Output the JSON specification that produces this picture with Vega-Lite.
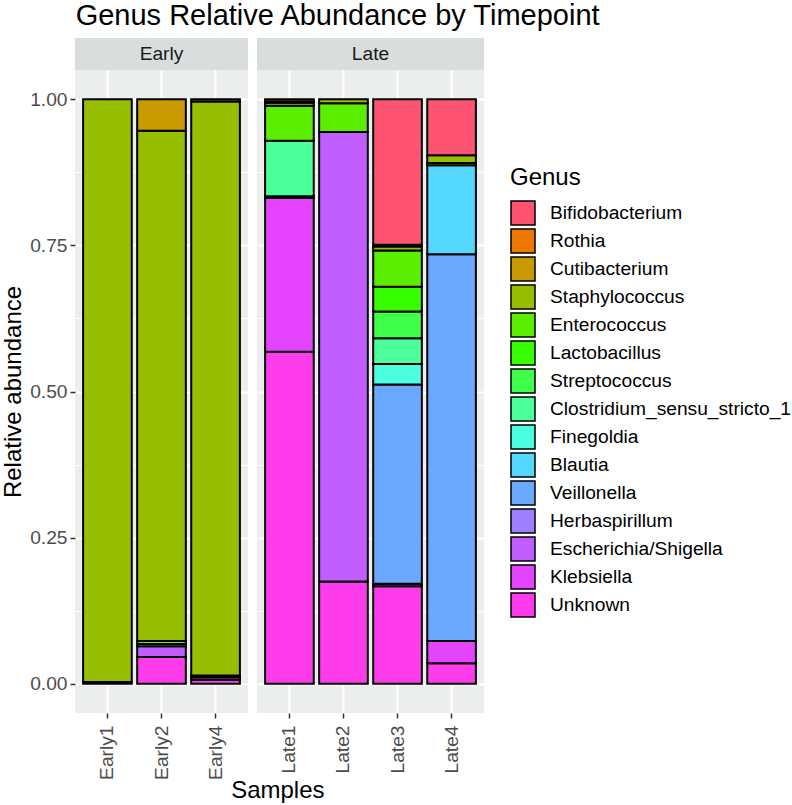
{
  "$schema": "https://vega.github.io/schema/vega-lite/v6.json",
  "padding": {"left": 1, "top": 2, "right": 0, "bottom": 0},
  "background": "white",
  "title": {"text": "Genus Relative Abundance by Timepoint", "anchor": "start", "fontSize": 29, "fontWeight": "normal", "font": "Liberation Sans", "color": "black", "offset": 7, "dx": 74},
  "datasets": {
    "abund": [
      {"Sample": "Early1", "Timepoint": "Early", "Genus": "Unknown", "Abundance": 0.003, "rank": 1},
      {"Sample": "Early1", "Timepoint": "Early", "Genus": "Staphylococcus", "Abundance": 0.997, "rank": 12},
      {"Sample": "Early2", "Timepoint": "Early", "Genus": "Unknown", "Abundance": 0.046, "rank": 1},
      {"Sample": "Early2", "Timepoint": "Early", "Genus": "Escherichia/Shigella", "Abundance": 0.018, "rank": 3},
      {"Sample": "Early2", "Timepoint": "Early", "Genus": "Veillonella", "Abundance": 0.004, "rank": 5},
      {"Sample": "Early2", "Timepoint": "Early", "Genus": "Enterococcus", "Abundance": 0.005, "rank": 11},
      {"Sample": "Early2", "Timepoint": "Early", "Genus": "Staphylococcus", "Abundance": 0.873, "rank": 12},
      {"Sample": "Early2", "Timepoint": "Early", "Genus": "Cutibacterium", "Abundance": 0.054, "rank": 13},
      {"Sample": "Early4", "Timepoint": "Early", "Genus": "Unknown", "Abundance": 0.007, "rank": 1},
      {"Sample": "Early4", "Timepoint": "Early", "Genus": "Klebsiella", "Abundance": 0.004, "rank": 2},
      {"Sample": "Early4", "Timepoint": "Early", "Genus": "Escherichia/Shigella", "Abundance": 0.003, "rank": 3},
      {"Sample": "Early4", "Timepoint": "Early", "Genus": "Staphylococcus", "Abundance": 0.982, "rank": 12},
      {"Sample": "Early4", "Timepoint": "Early", "Genus": "Cutibacterium", "Abundance": 0.004, "rank": 13},
      {"Sample": "Late1", "Timepoint": "Late", "Genus": "Unknown", "Abundance": 0.568, "rank": 1},
      {"Sample": "Late1", "Timepoint": "Late", "Genus": "Klebsiella", "Abundance": 0.263, "rank": 2},
      {"Sample": "Late1", "Timepoint": "Late", "Genus": "Escherichia/Shigella", "Abundance": 0.003, "rank": 3},
      {"Sample": "Late1", "Timepoint": "Late", "Genus": "Clostridium_sensu_stricto_1", "Abundance": 0.095, "rank": 8},
      {"Sample": "Late1", "Timepoint": "Late", "Genus": "Enterococcus", "Abundance": 0.060, "rank": 11},
      {"Sample": "Late1", "Timepoint": "Late", "Genus": "Staphylococcus", "Abundance": 0.005, "rank": 12},
      {"Sample": "Late1", "Timepoint": "Late", "Genus": "Cutibacterium", "Abundance": 0.002, "rank": 13},
      {"Sample": "Late1", "Timepoint": "Late", "Genus": "Rothia", "Abundance": 0.004, "rank": 14},
      {"Sample": "Late2", "Timepoint": "Late", "Genus": "Unknown", "Abundance": 0.175, "rank": 1},
      {"Sample": "Late2", "Timepoint": "Late", "Genus": "Escherichia/Shigella", "Abundance": 0.769, "rank": 3},
      {"Sample": "Late2", "Timepoint": "Late", "Genus": "Enterococcus", "Abundance": 0.049, "rank": 11},
      {"Sample": "Late2", "Timepoint": "Late", "Genus": "Staphylococcus", "Abundance": 0.007, "rank": 12},
      {"Sample": "Late3", "Timepoint": "Late", "Genus": "Unknown", "Abundance": 0.167, "rank": 1},
      {"Sample": "Late3", "Timepoint": "Late", "Genus": "Klebsiella", "Abundance": 0.004, "rank": 2},
      {"Sample": "Late3", "Timepoint": "Late", "Genus": "Veillonella", "Abundance": 0.341, "rank": 5},
      {"Sample": "Late3", "Timepoint": "Late", "Genus": "Finegoldia", "Abundance": 0.035, "rank": 7},
      {"Sample": "Late3", "Timepoint": "Late", "Genus": "Clostridium_sensu_stricto_1", "Abundance": 0.044, "rank": 8},
      {"Sample": "Late3", "Timepoint": "Late", "Genus": "Streptococcus", "Abundance": 0.046, "rank": 9},
      {"Sample": "Late3", "Timepoint": "Late", "Genus": "Lactobacillus", "Abundance": 0.042, "rank": 10},
      {"Sample": "Late3", "Timepoint": "Late", "Genus": "Enterococcus", "Abundance": 0.062, "rank": 11},
      {"Sample": "Late3", "Timepoint": "Late", "Genus": "Staphylococcus", "Abundance": 0.007, "rank": 12},
      {"Sample": "Late3", "Timepoint": "Late", "Genus": "Cutibacterium", "Abundance": 0.003, "rank": 13},
      {"Sample": "Late3", "Timepoint": "Late", "Genus": "Bifidobacterium", "Abundance": 0.249, "rank": 15},
      {"Sample": "Late4", "Timepoint": "Late", "Genus": "Unknown", "Abundance": 0.035, "rank": 1},
      {"Sample": "Late4", "Timepoint": "Late", "Genus": "Klebsiella", "Abundance": 0.038, "rank": 2},
      {"Sample": "Late4", "Timepoint": "Late", "Genus": "Veillonella", "Abundance": 0.662, "rank": 5},
      {"Sample": "Late4", "Timepoint": "Late", "Genus": "Blautia", "Abundance": 0.152, "rank": 6},
      {"Sample": "Late4", "Timepoint": "Late", "Genus": "Enterococcus", "Abundance": 0.004, "rank": 11},
      {"Sample": "Late4", "Timepoint": "Late", "Genus": "Staphylococcus", "Abundance": 0.013, "rank": 12},
      {"Sample": "Late4", "Timepoint": "Late", "Genus": "Bifidobacterium", "Abundance": 0.096, "rank": 15}
    ]
  },
  "vconcat": [
    {
      "title": {"text": "Samples", "orient": "bottom", "anchor": "middle", "fontSize": 24, "fontWeight": "normal", "font": "Liberation Sans", "color": "black", "offset": 0, "dx": 35},
      "spacing": 9,
      "hconcat": [
        {
          "spacing": 0,
          "vconcat": [
            {
              "width": 173, "height": 32,
              "data": {"values": [{"Timepoint": "Early"}]},
              "mark": {"type": "text", "fontSize": 19.2, "color": "#1A1A1A", "font": "Liberation Sans"},
              "encoding": {"text": {"field": "Timepoint", "type": "nominal"}},
              "view": {"fill": "#D9DEDD", "stroke": null}
            },
            {
              "width": 173, "height": 643,
              "data": {"name": "abund"},
              "transform": [{"filter": "datum.Timepoint === 'Early'"}],
              "mark": {"type": "bar", "stroke": "black", "strokeWidth": 2},
              "view": {"fill": "#EBEEED", "stroke": null},
              "encoding": {
                "x": {"field": "Sample", "type": "nominal", "scale": {"paddingInner": 0.1, "paddingOuter": 0.15},
                  "axis": {"title": null, "labelAngle": -90, "bandPosition": 0.5, "labelPadding": 7, "grid": true, "gridWidth": 2}},
                "y": {"field": "Abundance", "type": "quantitative", "stack": "zero",
                  "scale": {"domain": [-0.05, 1.05], "nice": false, "zero": false},
                  "axis": {"title": "Relative abundance", "values": [0, 0.125, 0.25, 0.375, 0.5, 0.625, 0.75, 0.875, 1],
                    "labelExpr": "datum.value % 0.25 === 0 ? format(datum.value, '.2f') : ''",
                    "tickOpacity": {"condition": {"test": "datum.value % 0.25 === 0", "value": 1}, "value": 0},
                    "gridWidth": {"condition": {"test": "datum.value % 0.25 === 0", "value": 2}, "value": 1},
                    "labelPadding": 3, "titlePadding": 4}},
                "color": {"field": "Genus", "type": "nominal",
                  "scale": {
                    "domain": ["Bifidobacterium", "Rothia", "Cutibacterium", "Staphylococcus", "Enterococcus", "Lactobacillus", "Streptococcus", "Clostridium_sensu_stricto_1", "Finegoldia", "Blautia", "Veillonella", "Herbaspirillum", "Escherichia/Shigella", "Klebsiella", "Unknown"],
                    "range": ["#FF5374", "#EE7700", "#C89A00", "#97BE00", "#5BEE00", "#37FF00", "#40FF4A", "#4BFF9B", "#4CFFE0", "#55D8FF", "#6BA8FF", "#9C80FF", "#C05EFF", "#E444FF", "#FF3CEC"]},
                  "legend": {"title": "Genus", "orient": "none", "legendX": 435, "legendY": 128}},
                "order": {"field": "rank", "type": "quantitative"}
              }
            }
          ]
        },
        {
          "spacing": 0,
          "vconcat": [
            {
              "width": 227, "height": 32,
              "data": {"values": [{"Timepoint": "Late"}]},
              "mark": {"type": "text", "fontSize": 19.2, "color": "#1A1A1A", "font": "Liberation Sans"},
              "encoding": {"text": {"field": "Timepoint", "type": "nominal"}},
              "view": {"fill": "#D9DEDD", "stroke": null}
            },
            {
              "width": 227, "height": 643,
              "data": {"name": "abund"},
              "transform": [{"filter": "datum.Timepoint === 'Late'"}],
              "mark": {"type": "bar", "stroke": "black", "strokeWidth": 2},
              "view": {"fill": "#EBEEED", "stroke": null},
              "encoding": {
                "x": {"field": "Sample", "type": "nominal", "scale": {"paddingInner": 0.1, "paddingOuter": 0.15},
                  "axis": {"title": null, "labelAngle": -90, "bandPosition": 0.5, "labelPadding": 7, "grid": true, "gridWidth": 2}},
                "y": {"field": "Abundance", "type": "quantitative", "stack": "zero",
                  "scale": {"domain": [-0.05, 1.05], "nice": false, "zero": false},
                  "axis": {"title": null, "labels": false, "ticks": false, "values": [0, 0.125, 0.25, 0.375, 0.5, 0.625, 0.75, 0.875, 1],
                    "gridWidth": {"condition": {"test": "datum.value % 0.25 === 0", "value": 2}, "value": 1}}},
                "color": {"field": "Genus", "type": "nominal",
                  "scale": {
                    "domain": ["Bifidobacterium", "Rothia", "Cutibacterium", "Staphylococcus", "Enterococcus", "Lactobacillus", "Streptococcus", "Clostridium_sensu_stricto_1", "Finegoldia", "Blautia", "Veillonella", "Herbaspirillum", "Escherichia/Shigella", "Klebsiella", "Unknown"],
                    "range": ["#FF5374", "#EE7700", "#C89A00", "#97BE00", "#5BEE00", "#37FF00", "#40FF4A", "#4BFF9B", "#4CFFE0", "#55D8FF", "#6BA8FF", "#9C80FF", "#C05EFF", "#E444FF", "#FF3CEC"]},
                  "legend": {"title": "Genus", "orient": "none", "legendX": 435, "legendY": 128}},
                "order": {"field": "rank", "type": "quantitative"}
              }
            }
          ]
        }
      ]
    }
  ],
  "config": {
    "font": "Liberation Sans",
    "view": {"stroke": null},
    "axis": {"domain": false, "tickColor": "#333333", "tickWidth": 1.5, "tickSize": 5, "labelColor": "#4D4D4D", "labelFontSize": 19.2, "labelFont": "Liberation Sans", "titleFont": "Liberation Sans", "titleFontSize": 24, "titleFontWeight": "normal", "titleColor": "black", "gridColor": "white", "gridWidth": 2},
    "legend": {"titleFontSize": 24, "titleFontWeight": "normal", "titleColor": "black", "titleFont": "Liberation Sans", "labelFont": "Liberation Sans", "labelFontSize": 19.2, "labelColor": "black", "symbolType": "square", "symbolSize": 576, "symbolStrokeColor": "black", "symbolStrokeWidth": 1.5, "symbolOpacity": 1, "rowPadding": -2, "labelOffset": 14, "titlePadding": 10, "labelLimit": 400}
  }
}
